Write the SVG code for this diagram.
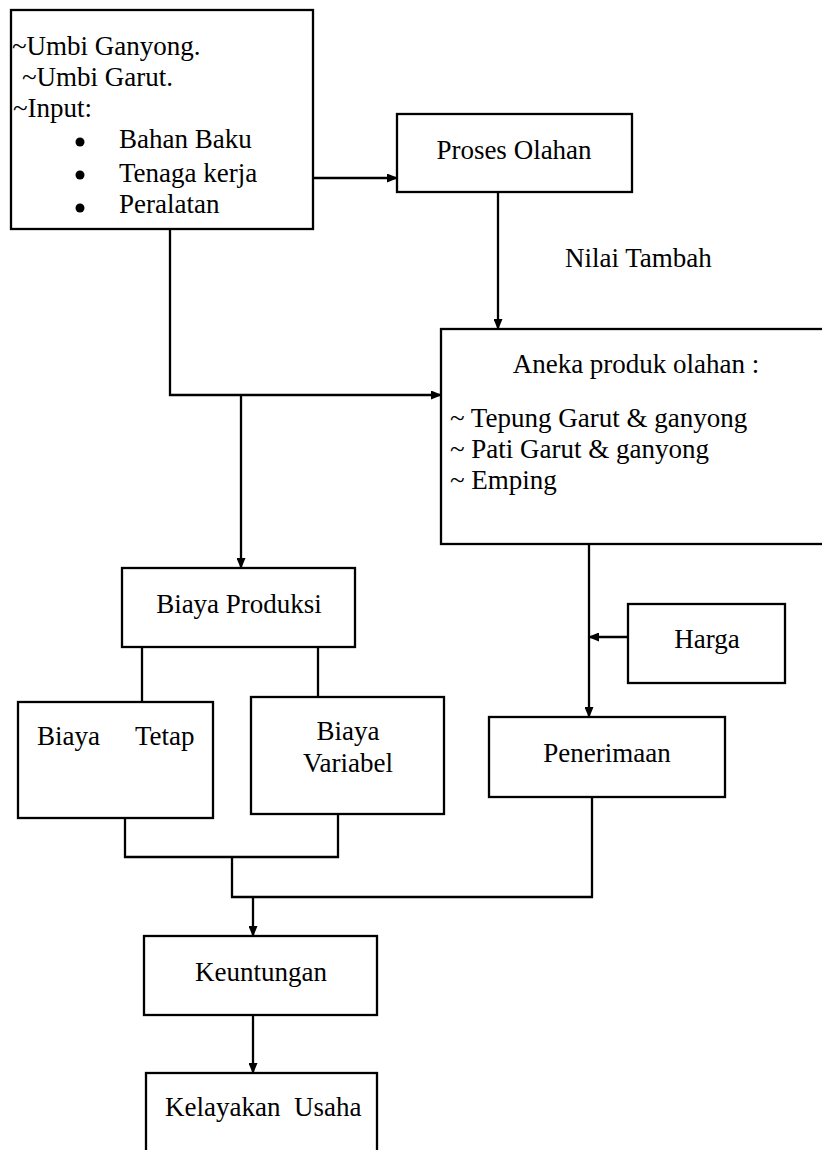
<svg xmlns="http://www.w3.org/2000/svg" width="822" height="1150" viewBox="0 0 822 1150">
<style>
.box{fill:#fff;stroke:#000;stroke-width:2.3}
.t{font-size:27px;fill:#000}
.c{text-anchor:middle}
.ln{fill:none;stroke:#000;stroke-width:2.3}
</style>
<defs>
<marker id="ah" markerWidth="11" markerHeight="9" refX="10" refY="4.5" orient="auto" markerUnits="userSpaceOnUse">
<path d="M0,0 L11,4.5 L0,9 Z" fill="#000"/>
</marker>
</defs>
<rect width="822" height="1150" fill="#fff"/>
<g id="connectors">
<path class="ln" d="M307,178 H397" marker-end="url(#ah)"/>
<path class="ln" d="M498,192 V329" marker-end="url(#ah)"/>
<path class="ln" d="M170,229 V395 H441" marker-end="url(#ah)"/>
<path class="ln" d="M241,395 V568" marker-end="url(#ah)"/>
<path class="ln" d="M142,647 V702"/>
<path class="ln" d="M318,647 V698"/>
<path class="ln" d="M125,818 V857 H338 V814"/>
<path class="ln" d="M232,857 V897 H592 V797"/>
<path class="ln" d="M589,543 V717" marker-end="url(#ah)"/>
<path class="ln" d="M628,637 H589" marker-end="url(#ah)"/>
<path class="ln" d="M253,897 V936" marker-end="url(#ah)"/>
<path class="ln" d="M253,1015 V1073" marker-end="url(#ah)"/>
</g>
<g font-family="Liberation Serif, Times New Roman, serif">
<g id="input">
<rect class="box" x="11" y="10" width="302" height="219"/>
<text class="t" x="12" y="55">~Umbi Ganyong.</text>
<text class="t" x="22" y="86">~Umbi Garut.</text>
<text class="t" x="13" y="117">~Input:</text>
<circle cx="80" cy="142" r="4.5"/>
<circle cx="80" cy="175" r="4.5"/>
<circle cx="80" cy="208" r="4.5"/>
<text class="t" x="119" y="148">Bahan Baku</text>
<text class="t" x="119" y="182">Tenaga kerja</text>
<text class="t" x="119" y="213">Peralatan</text>
</g>
<g id="proses">
<rect class="box" x="397" y="114" width="235" height="78"/>
<text class="t c" x="514" y="159">Proses Olahan</text>
</g>
<g id="nilai">
<text class="t" x="565" y="267">Nilai Tambah</text>
</g>
<g id="aneka">
<rect class="box" x="441" y="329" width="390" height="215"/>
<text class="t c" x="636" y="373">Aneka produk olahan :</text>
<text class="t" x="450" y="427">~ Tepung Garut &amp; ganyong</text>
<text class="t" x="450" y="458">~ Pati Garut &amp; ganyong</text>
<text class="t" x="450" y="489">~ Emping</text>
</g>
<g id="biayaproduksi">
<rect class="box" x="122" y="568" width="233" height="79"/>
<text class="t c" x="239" y="613">Biaya Produksi</text>
</g>
<g id="biayatetap">
<rect class="box" x="18" y="702" width="195" height="116"/>
<text class="t" x="37" y="745">Biaya</text>
<text class="t" x="135" y="745">Tetap</text>
</g>
<g id="biayavariabel">
<rect class="box" x="251" y="697" width="193" height="117"/>
<text class="t c" x="348" y="740">Biaya</text>
<text class="t c" x="348" y="772">Variabel</text>
</g>
<g id="harga">
<rect class="box" x="628" y="604" width="157" height="79"/>
<text class="t c" x="707" y="648">Harga</text>
</g>
<g id="penerimaan">
<rect class="box" x="489" y="717" width="236" height="80"/>
<text class="t c" x="607" y="762">Penerimaan</text>
</g>
<g id="keuntungan">
<rect class="box" x="144" y="936" width="233" height="79"/>
<text class="t c" x="261" y="981">Keuntungan</text>
</g>
<g id="kelayakan">
<rect class="box" x="146" y="1073" width="231" height="90"/>
<text class="t" x="165" y="1116" xml:space="preserve">Kelayakan  Usaha</text>
</g>
</g>
</svg>
